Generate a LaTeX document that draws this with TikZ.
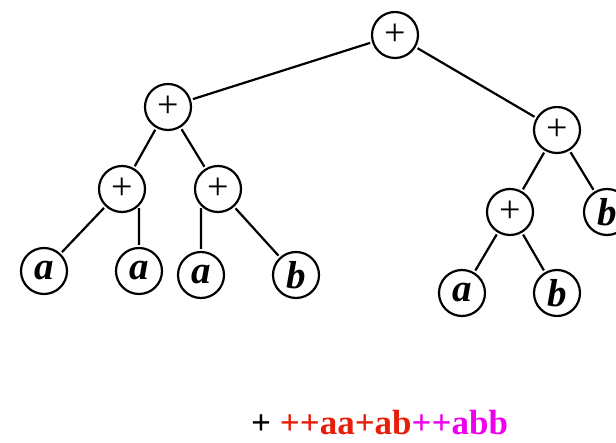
\documentclass[tikz,border=0pt]{standalone}
\usepackage{fontspec}
\setmainfont{Liberation Serif}
\definecolor{opred}{RGB}{232,30,12}
\definecolor{opmag}{RGB}{238,0,238}
\tikzset{
	vert/.style={circle, draw, line width=2.2pt, minimum size=46pt, inner sep=0pt,
		font=\fontsize{38}{38}\selectfont},
	leaf/.style={vert, font=\fontsize{39}{39}\selectfont\bfseries\itshape},
	edge/.style={line width=2.2pt, shorten <=2pt, shorten >=2pt}
}
\begin{document}
\begin{tikzpicture}[x=1pt,y=-1pt]
	\useasboundingbox (0,0) rectangle (616,443);
	% inner nodes
	\foreach \n/\x/\y in {root/395/35, l/168/107, ll/122/189, lr/218/189,
		r/557/130, rl/510/212}{
		\node[vert] (\n) at (\x,\y) {+};}
	% leaves
	\foreach \n/\x/\y/\t in {a1/44/271/a, a2/139/271/a, a3/201/275/a, b1/296/275/b,
		rr/607/212/b, a4/462/293/a, b2/557/293/b}{
		\node[leaf] (\n) at (\x,\y) {\t};}
	\foreach \p/\c in {root/l, root/r, l/ll, l/lr, ll/a1, lr/b1, r/rl, r/rr, rl/a4, rl/b2}{
		\draw[edge] (\p) -- (\c);}
	\draw[edge] (ll.south east) -- (a2.north);
	\draw[edge] (lr.south west) -- (a3.north);
	% prefix form
	\node[anchor=base west, inner sep=0pt, font=\fontsize{35}{35}\selectfont\bfseries] (prefix)
		at (251,435) {+ \textcolor{opred}{++aa+ab}\textcolor{opmag}{++abb}};
\end{tikzpicture}
\end{document}
